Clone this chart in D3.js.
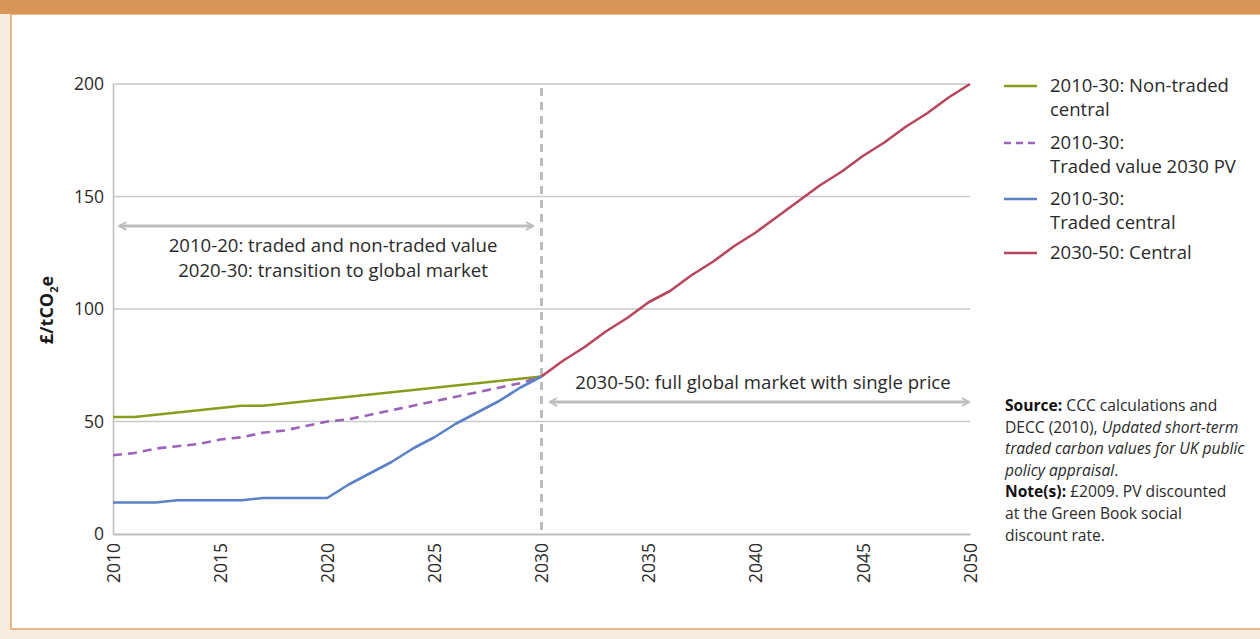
<!DOCTYPE html>
<html><head><meta charset="utf-8">
<script src="https://cdn.jsdelivr.net/npm/d3@7"></script>
<style>
body{margin:0;padding:0;background:#f8ecdf;}
svg{display:block;font-family:"Open Sans","Noto Sans",sans-serif;}
</style></head>
<body>
<svg id="chart" width="1260" height="639"></svg>
<script>
const years2010_30 = d3.range(2010, 2031);
const years2030_50 = d3.range(2030, 2051);
const nonTradedCentral = [52,52,53,54,55,56,57,57,58,59,60,61,62,63,64,65,66,67,68,69,70];
const tradedValuePV   = [35,36,38,39,40,42,43,45,46,48,50,51,53,55,57,59,61,63,65,67,70];
const tradedCentral   = [14,14,14,15,15,15,15,16,16,16,16,22,27,32,38,43,49,54,59,65,70];
const central2030_50  = [70,77,83,90,96,103,108,115,121,128,134,141,148,155,161,168,174,181,187,194,200];
const yTicks = [0,50,100,150,200];
const xTicks = [2010,2015,2020,2025,2030,2035,2040,2045,2050];
const seriesNames = ["2010-30: Non-traded|central","2010-30:|Traded value 2030 PV","2010-30:|Traded central","2030-50: Central"];
const seriesColors = ["#8c9b1d","#9b63b9","#5b81c7","#b8465f"];

const textColor = "#2a2a2a";
const svg = d3.select("#chart");
// frame
svg.append("rect").attr("x",0).attr("y",0).attr("width",1260).attr("height",639).attr("fill","#f8ecdf");
svg.append("rect").attr("x",11).attr("y",14).attr("width",1260).attr("height",615).attr("fill","#ffffff").attr("stroke","#e8a166").attr("stroke-width",1.5);
svg.append("rect").attr("x",0).attr("y",0).attr("width",1260).attr("height",14).attr("fill","#d99557");

const x = d3.scaleLinear().domain([2010,2050]).range([113,970]);
const y = d3.scaleLinear().domain([0,200]).range([534,84]);

// gridlines
svg.append("g").selectAll("line").data(yTicks.filter(d=>d>0)).join("line")
  .attr("x1",113).attr("x2",970).attr("y1",d=>y(d)).attr("y2",d=>y(d))
  .attr("stroke","#c9c9c9").attr("stroke-width",1.5);

// axes
const yAxis = svg.append("g").attr("transform","translate(113,0)")
  .call(d3.axisLeft(y).tickValues(yTicks).tickSize(0).tickPadding(9));
yAxis.select(".domain").attr("stroke","#bdbdbd").attr("stroke-width",1.5);
yAxis.selectAll("text").attr("font-size",17.5).attr("fill",textColor).attr("font-family","'Open Sans',sans-serif");

const xAxis = svg.append("g").attr("transform","translate(0,534)")
  .call(d3.axisBottom(x).tickValues(xTicks).tickFormat(d3.format("d")).tickSize(0));
xAxis.select(".domain").attr("stroke","#bdbdbd").attr("stroke-width",2);
xAxis.selectAll("text").attr("font-size",17.5).attr("fill",textColor).attr("font-family","'Open Sans',sans-serif")
  .attr("transform","rotate(-90)").attr("text-anchor","end").attr("dy","0.35em").attr("x",-9).attr("y",0);

// y axis title
const yt = svg.append("text").attr("transform","translate(53,310) rotate(-90)")
  .attr("text-anchor","middle").attr("font-size",18).attr("font-weight","bold").attr("fill","#1a1a1a");
yt.append("tspan").text("£/tCO");
yt.append("tspan").text("2").attr("font-size",11).attr("dy",5);
yt.append("tspan").text("e").attr("dy",-5);

// vertical dashed divider at 2030
svg.append("line").attr("x1",x(2030)).attr("x2",x(2030)).attr("y1",88).attr("y2",534)
  .attr("stroke","#bdbdbd").attr("stroke-width",3).attr("stroke-dasharray","8,6");

// arrows
const defs = svg.append("defs");
defs.append("marker").attr("id","ah").attr("viewBox","0 0 10 10").attr("refX",8).attr("refY",5)
  .attr("markerWidth",10).attr("markerHeight",10).attr("markerUnits","userSpaceOnUse").attr("orient","auto-start-reverse")
  .append("path").attr("d","M1,1 L8,5 L1,9").attr("fill","none").attr("stroke","#bdbdbd").attr("stroke-width",2);
function arrow(x1,x2,yy){
  svg.append("line").attr("x1",x1).attr("x2",x2).attr("y1",yy).attr("y2",yy)
   .attr("stroke","#bdbdbd").attr("stroke-width",3)
   .attr("marker-start","url(#ah)").attr("marker-end","url(#ah)");
}
arrow(x(2010.3),x(2029.6),226);
arrow(x(2030.4),x(2049.95),402);

const annot = svg.append("g").attr("font-size",18.6).attr("fill",textColor).attr("text-anchor","middle");
annot.append("text").attr("x",333).attr("y",252).text("2010-20: traded and non-traded value");
annot.append("text").attr("x",333).attr("y",277).text("2020-30: transition to global market");
annot.append("text").attr("x",763).attr("y",389).text("2030-50: full global market with single price");

// lines
const line = d3.line().x(d=>x(d[0])).y(d=>y(d[1]));
const series = [
  {yrs:years2010_30, vals:nonTradedCentral, c:seriesColors[0], dash:null},
  {yrs:years2010_30, vals:tradedValuePV, c:seriesColors[1], dash:"9,6"},
  {yrs:years2010_30, vals:tradedCentral, c:seriesColors[2], dash:null},
  {yrs:years2030_50, vals:central2030_50, c:seriesColors[3], dash:null}
];
series.forEach(s=>{
  svg.append("path").datum(s.yrs.map((yr,i)=>[yr,s.vals[i]]))
    .attr("d",line).attr("fill","none").attr("stroke",s.c).attr("stroke-width",2.6)
    .attr("stroke-dasharray",s.dash).attr("stroke-linejoin","round");
});

// legend
const legY = [86,143,199,253];
const lg = svg.append("g");
seriesNames.forEach((nm,i)=>{
  lg.append("line").attr("x1",1004).attr("x2",1037).attr("y1",legY[i]).attr("y2",legY[i])
    .attr("stroke",seriesColors[i]).attr("stroke-width",2.6).attr("stroke-dasharray",i===1?"7,5":null);
  const parts = nm.split("|");
  parts.forEach((p,j)=>{
    lg.append("text").attr("x",1050).attr("y",legY[i]+6+j*23.5).attr("font-size",18.5)
      .attr("fill",textColor).text(p);
  });
});

// source note
const src = svg.append("g").attr("font-size",15.6).attr("fill",textColor);
const srcLines = [
  [["Source: ","b"],["CCC calculations and",""]],
  [["DECC (2010), ",""],["Updated short-term","i"]],
  [["traded carbon values for UK public","i"]],
  [["policy appraisal","i"],[".",""]],
  [["Note(s): ","b"],["£2009. PV discounted",""]],
  [["at the Green Book social",""]],
  [["discount rate.",""]]
];
srcLines.forEach((ln,i)=>{
  const t = src.append("text").attr("x",1005).attr("y",411+i*21.6);
  ln.forEach(p=>{
    const ts = t.append("tspan").text(p[0]);
    if(p[1]==="b") ts.attr("font-weight","bold").attr("fill","#111");
    if(p[1]==="i") ts.attr("font-style","italic");
  });
});
</script>
</body></html>
